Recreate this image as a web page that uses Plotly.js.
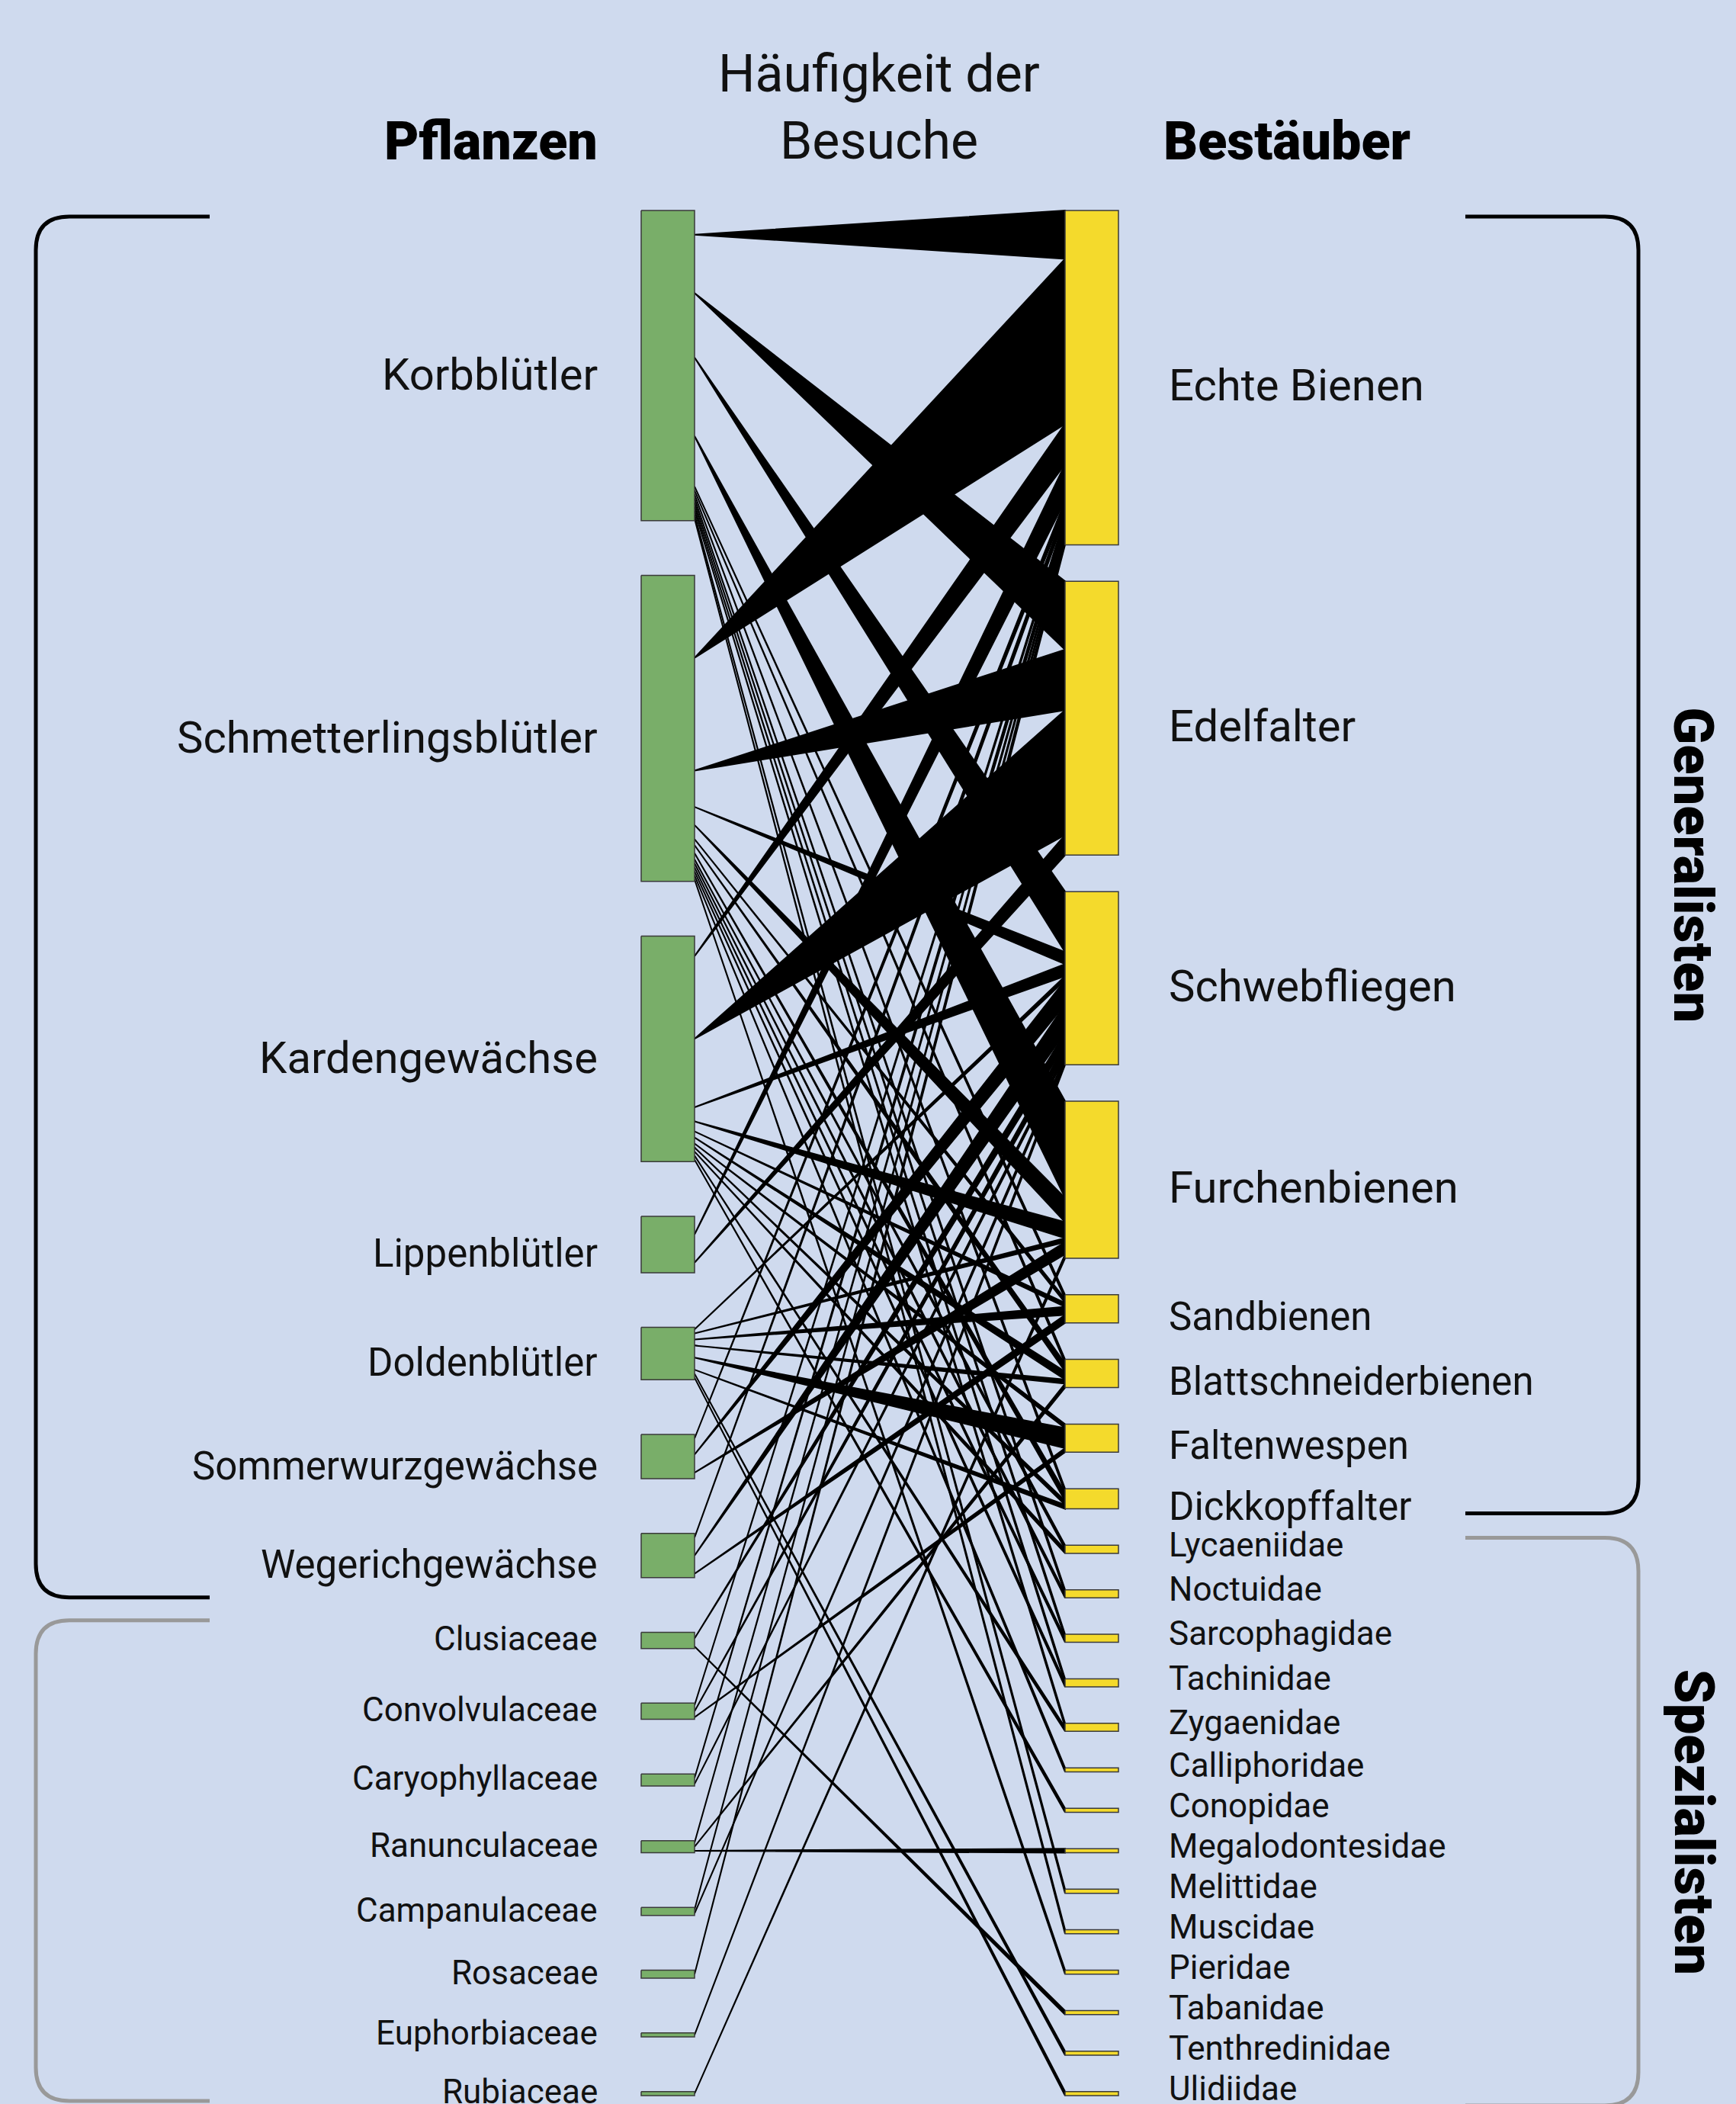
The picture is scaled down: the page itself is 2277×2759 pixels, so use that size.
<!DOCTYPE html>
<html><head><meta charset="utf-8">
<script src="https://cdn.plot.ly/plotly-3.0.1.min.js"></script>
<style>html,body{margin:0;padding:0;background:#cfdaee;}#chart{width:2277px;height:2759px;}</style>
</head><body><div id="chart"></div>
<script>
// ---------- data ----------
const plants = ["Korbblütler","Schmetterlingsblütler","Kardengewächse","Lippenblütler","Doldenblütler",
  "Sommerwurzgewächse","Wegerichgewächse","Clusiaceae","Convolvulaceae","Caryophyllaceae",
  "Ranunculaceae","Campanulaceae","Rosaceae","Euphorbiaceae","Rubiaceae"];
const pollinators = ["Echte Bienen","Edelfalter","Schwebfliegen","Furchenbienen","Sandbienen",
  "Blattschneiderbienen","Faltenwespen","Dickkopffalter","Lycaeniidae","Noctuidae","Sarcophagidae",
  "Tachinidae","Zygaenidae","Calliphoridae","Conopidae","Megalodontesidae","Melittidae","Muscidae",
  "Pieridae","Tabanidae","Tenthredinidae","Ulidiidae"];
const generalistPlantCount = 7;
const generalistPollinatorCount = 8;
// interactions: plant index, pollinator index, number of visits
const linkPlant = [0,0,0,0,0,0,0,0,0,0,0,0,0,
  1,1,1,1,1,1,1,1,1,1,1,1,1,
  2,2,2,2,2,2,2,2,2,2,2,
  3,3,
  4,4,4,4,4,4,4,4,
  5,5,5,
  6,6,6,
  7,7,
  8,8,8,
  9,9,
  10,10,10,
  11,11,
  12,
  13,
  14];
const linkPollinator = [0,1,2,3,4,5,7,9,10,11,12,16,17,
  0,1,2,3,4,5,7,8,9,10,11,13,18,
  0,1,2,3,4,5,6,7,8,12,14,
  0,1,
  2,3,4,5,6,7,20,21,
  0,2,3,
  0,2,4,
  2,19,
  0,2,6,
  0,2,
  0,5,15,
  0,2,
  0,
  2,
  3];
const linkVisits = [12,17,15,24,1,1,1,1,1,1,1,1,1,
  41,15,3,6,1,2,2,1,1,1,1,1,1,
  10,31,3,4,1,2,1,1,1,1,1,
  9,5,
  1,1,2,1,5,1,1,1,
  2,6,3,
  2,7,2,
  3,1,
  1,2,1,
  2,1,
  1,1,1,
  1,1,
  2,
  1,
  1];

// ---------- layout geometry ----------
const W = 2277, H = 2759;
const TOP = 276, BOTTOM = 2748, FILL = 0.594;
const PX0 = 841, PX1 = 911;     // plant boxes
const QX0 = 1397, QX1 = 1467;   // pollinator boxes
const BG = "#cfdaee";

const total = linkVisits.reduce((a,b)=>a+b,0);
const plantTot = plants.map((_,i)=>linkVisits.reduce((s,v,k)=>s+(linkPlant[k]===i?v:0),0));
const polTot = pollinators.map((_,j)=>linkVisits.reduce((s,v,k)=>s+(linkPollinator[k]===j?v:0),0));
const k = FILL*(BOTTOM-TOP)/total;
function stack(tots){
  const gap = (BOTTOM-TOP-total*k)/(tots.length-1);
  const y0=[]; let y=TOP;
  tots.forEach(t=>{y0.push(y); y+=t*k+gap;});
  return y0;
}
const plantY0 = stack(plantTot), polY0 = stack(polTot);

// link polygons: apex at plant (centre of its share), base on pollinator
const idx = linkVisits.map((_,i)=>i);
const apexY = new Array(linkVisits.length), baseA = new Array(linkVisits.length), baseB = new Array(linkVisits.length);
plants.forEach((_,i)=>{
  let c=0;
  idx.filter(l=>linkPlant[l]===i).sort((a,b)=>linkPollinator[a]-linkPollinator[b]).forEach(l=>{
    apexY[l]=plantY0[i]+(c+linkVisits[l]/2)*k; c+=linkVisits[l];
  });
});
pollinators.forEach((_,j)=>{
  let c=0;
  idx.filter(l=>linkPollinator[l]===j).sort((a,b)=>linkPlant[a]-linkPlant[b]).forEach(l=>{
    baseA[l]=polY0[j]+c*k; c+=linkVisits[l]; baseB[l]=polY0[j]+c*k;
  });
});
const lx=[], ly=[];
idx.forEach(l=>{
  lx.push(PX1,QX0,QX0,PX1,null);
  ly.push(apexY[l],baseA[l],baseB[l],apexY[l],null);
});
function boxes(y0s,tots,x0,x1){
  const x=[],y=[];
  y0s.forEach((y0,i)=>{const y1=y0+tots[i]*k; x.push(x0,x1,x1,x0,x0,null); y.push(y0,y0,y1,y1,y0,null);});
  return {x,y};
}
const pb = boxes(plantY0,plantTot,PX0,PX1), qb = boxes(polY0,polTot,QX0,QX1);

const traces = [
  {type:"scatter",mode:"lines",x:lx,y:ly,fill:"toself",fillcolor:"#000",line:{color:"#000",width:2},hoverinfo:"skip",showlegend:false},
  {type:"scatter",mode:"lines",x:pb.x,y:pb.y,fill:"toself",fillcolor:"#79ae69",line:{color:"#3a3a3a",width:1.5},hoverinfo:"skip",showlegend:false},
  {type:"scatter",mode:"lines",x:qb.x,y:qb.y,fill:"toself",fillcolor:"#f4da2c",line:{color:"#3a3a3a",width:1.5},hoverinfo:"skip",showlegend:false}
];

const FONT = "Roboto, 'Open Sans', sans-serif";
function labelSize(v){ return v>=30?58:(v>=5?51:44); }
function plantShift(v){ return v>=30?-12:(v>=5?-12:2); }
function polShift(v){ return v>=30?-10:(v>=5?-10:6); }
const ann = [];
plants.forEach((p,i)=>ann.push({x:786,y:plantY0[i]+plantTot[i]*k/2,xref:"x",yref:"y",text:p,showarrow:false,
  xanchor:"right",yanchor:"middle",yshift:plantShift(plantTot[i]),font:{family:FONT,size:labelSize(plantTot[i]),color:"#111"}}));
pollinators.forEach((p,j)=>ann.push({x:1531,y:polY0[j]+polTot[j]*k/2,xref:"x",yref:"y",text:p,showarrow:false,
  xanchor:"left",yanchor:"middle",yshift:polShift(polTot[j]),font:{family:FONT,size:labelSize(polTot[j]),color:"#111"}}));
const TF = {family:FONT,size:70,color:"#000",weight:900};
ann.push({x:786,y:185,xref:"x",yref:"y",text:"Pflanzen",showarrow:false,xanchor:"right",yanchor:"middle",font:TF});
ann.push({x:1524,y:185,xref:"x",yref:"y",text:"Bestäuber",showarrow:false,xanchor:"left",yanchor:"middle",font:TF});
ann.push({x:1153,y:97,xref:"x",yref:"y",text:"Häufigkeit der",showarrow:false,xanchor:"center",yanchor:"middle",font:{family:FONT,size:68,color:"#111"}});
ann.push({x:1153,y:185,xref:"x",yref:"y",text:"Besuche",showarrow:false,xanchor:"center",yanchor:"middle",font:{family:FONT,size:68,color:"#111"}});

// brackets
const R = 44;
function leftPath(x,xe,t,b){return `M ${xe},${t} L ${x+R},${t} Q ${x},${t} ${x},${t+R} L ${x},${b-R} Q ${x},${b} ${x+R},${b} L ${xe},${b}`;}
function rightPath(x,xe,t,b){return `M ${xe},${t} L ${x-R},${t} Q ${x},${t} ${x},${t+R} L ${x},${b-R} Q ${x},${b} ${x-R},${b} L ${xe},${b}`;}
const gp = generalistPlantCount, gq = generalistPollinatorCount;
const splitL = (plantY0[gp-1]+plantTot[gp-1]*k + plantY0[gp])/2;
const splitR = (polY0[gq-1]+polTot[gq-1]*k + polY0[gq])/2;
const endL = plantY0[plants.length-1]+plantTot[plants.length-1]*k+7;
const endR = polY0[pollinators.length-1]+polTot[pollinators.length-1]*k+13;
const shapes = [
  {type:"path",xref:"x",yref:"y",path:leftPath(47,275,TOP+8,splitL-10),line:{color:"#000",width:5}},
  {type:"path",xref:"x",yref:"y",path:leftPath(47,275,splitL+20,endL),line:{color:"#999",width:5}},
  {type:"path",xref:"x",yref:"y",path:rightPath(2149,1922,TOP+8,splitR-18),line:{color:"#000",width:5}},
  {type:"path",xref:"x",yref:"y",path:rightPath(2149,1922,splitR+14,endR),line:{color:"#999",width:5}}
];
const RF = {family:FONT,size:72,color:"#000",weight:900};
ann.push({x:2221,y:(TOP+8+splitR-18)/2,xref:"x",yref:"y",text:"Generalisten",textangle:90,showarrow:false,
  xanchor:"center",yanchor:"middle",font:RF});
ann.push({x:2221,y:(splitR+14+endR)/2,xref:"x",yref:"y",text:"Spezialisten",textangle:90,showarrow:false,
  xanchor:"center",yanchor:"middle",font:RF});

const layout = {
  width:W,height:H,margin:{l:0,r:0,t:0,b:0},
  paper_bgcolor:BG,plot_bgcolor:BG,
  xaxis:{range:[0,W],visible:false,fixedrange:true},
  yaxis:{range:[H,0],visible:false,fixedrange:true},
  annotations:ann,shapes:shapes,showlegend:false
};
Plotly.newPlot("chart",traces,layout,{staticPlot:true,displayModeBar:false});
</script></body></html>
